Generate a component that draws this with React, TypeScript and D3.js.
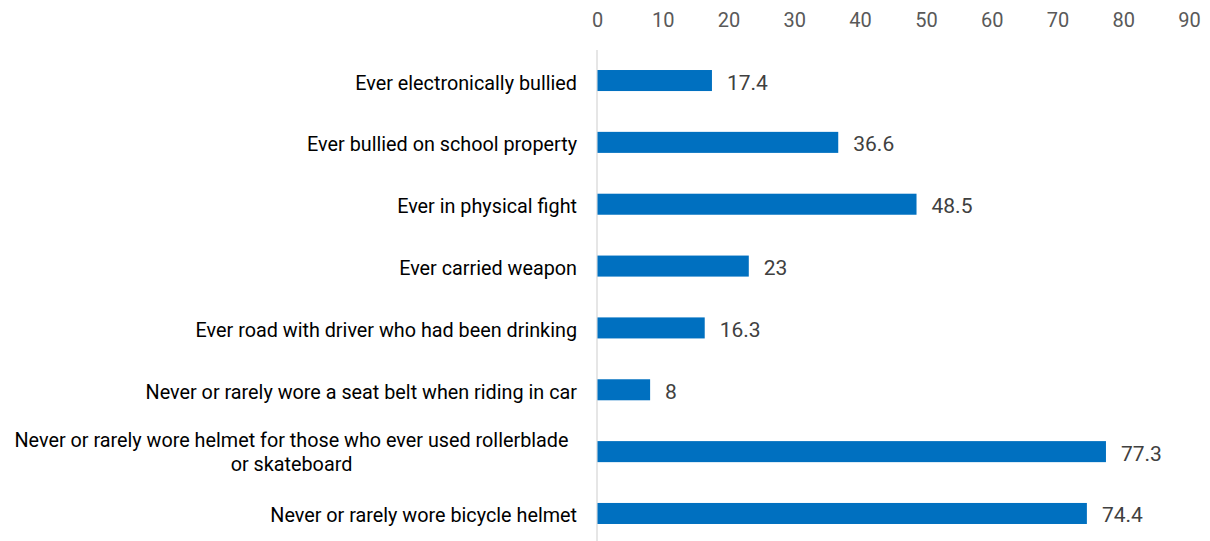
import React, { useEffect, useRef } from 'react';
import * as d3 from 'd3';

const categories: string[][] = [
  ['Ever electronically bullied'],
  ['Ever bullied on school property'],
  ['Ever in physical fight'],
  ['Ever carried weapon'],
  ['Ever road with driver who had been drinking'],
  ['Never or rarely wore a seat belt when riding in car'],
  ['Never or rarely wore helmet for those who ever used rollerblade', 'or skateboard'],
  ['Never or rarely wore bicycle helmet'],
];
const values: number[] = [17.4, 36.6, 48.5, 23, 16.3, 8, 77.3, 74.4];
const ticks: number[] = [0, 10, 20, 30, 40, 50, 60, 70, 80, 90];

const W = 1210;
const H = 541;
const FONT = 'Roboto, "Liberation Sans", sans-serif';

const App: React.FC = () => {
  const svgRef = useRef<SVGSVGElement>(null);

  useEffect(() => {
    if (!svgRef.current) return;
    const svg = d3.select(svgRef.current);
    svg.selectAll('*').remove();

    const x = d3.scaleLinear().domain([0, 90]).range([597.5, 1189.5]);
    const y = d3.scaleBand<number>()
      .domain(d3.range(values.length))
      .range([49.6, 544.4])
      .paddingInner(0.66)
      .paddingOuter(0.33);

    // top tick labels
    svg.append('g')
      .selectAll('text')
      .data(ticks)
      .join('text')
      .attr('x', d => x(d))
      .attr('y', 27)
      .attr('text-anchor', 'middle')
      .attr('font-family', FONT)
      .attr('font-size', 20)
      .attr('fill', '#595959')
      .text(d => d);

    // vertical axis line
    svg.append('line')
      .attr('x1', x(0) - 0.5).attr('x2', x(0) - 0.5)
      .attr('y1', 50).attr('y2', 545)
      .attr('stroke', '#d9d9d9')
      .attr('stroke-width', 1.3);

    const bw = y.bandwidth();

    svg.append('g')
      .selectAll('rect')
      .data(values)
      .join('rect')
      .attr('x', x(0))
      .attr('y', (d, i) => y(i)!)
      .attr('width', d => x(d) - x(0))
      .attr('height', bw)
      .attr('fill', '#0070c0');

    svg.append('g')
      .selectAll('text')
      .data(values)
      .join('text')
      .attr('x', d => x(d) + 15)
      .attr('y', (d, i) => y(i)! + bw / 2 + 9)
      .attr('font-family', FONT)
      .attr('font-size', 21)
      .attr('fill', '#404040')
      .text(d => d);

    const lab = svg.append('g')
      .selectAll('text')
      .data(categories)
      .join('text')
      .attr('font-family', FONT)
      .attr('font-size', 19.8)
      .attr('fill', '#000');

    // wrapped labels are centred as a block, single ones sit right against the axis
    lab.each(function (lines, i) {
      const t = d3.select(this);
      const cy = y(i)! + bw / 2;
      const multi = lines.length > 1;
      t.attr('text-anchor', multi ? 'middle' : 'end');
      lines.forEach((ln, k) => {
        t.append('tspan')
          .attr('x', multi ? 291.5 : 577)
          .attr('y', cy + 9 - (lines.length - 1) * 14 + k * 24)
          .text(ln);
      });
    });
  }, []);

  return (
    <svg
      ref={svgRef}
      width={W}
      height={H}
      style={{ position: 'absolute', left: 0, top: 0, background: '#fff' }}
    />
  );
};

export default App;
